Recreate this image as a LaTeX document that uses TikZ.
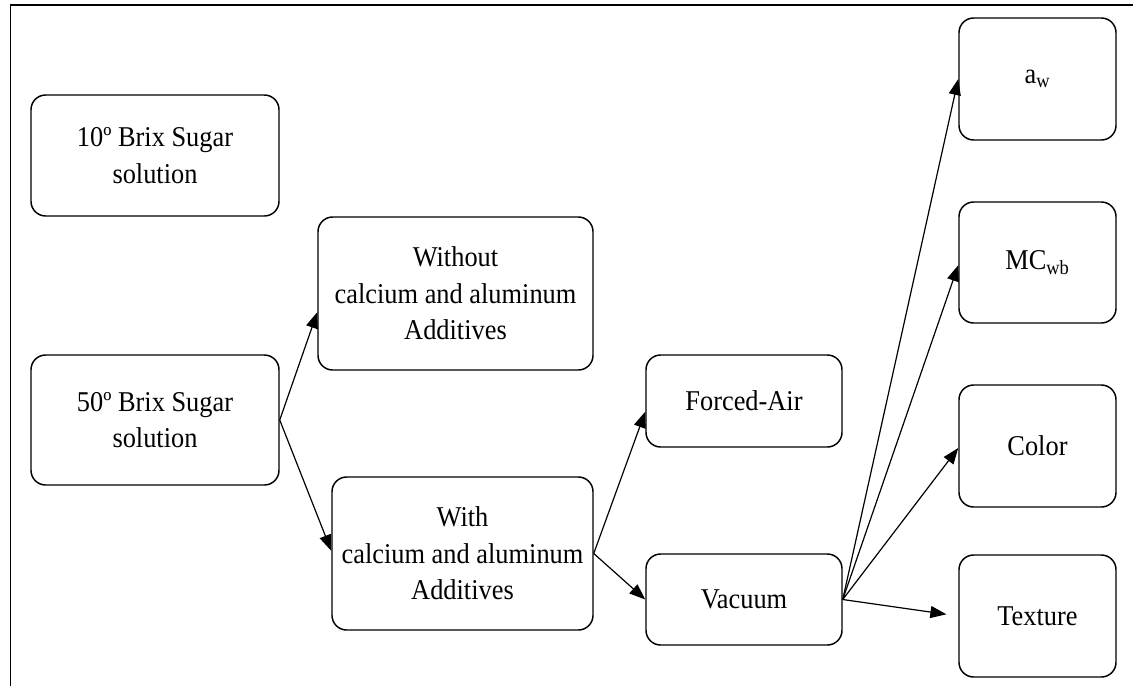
\documentclass[tikz,border=0pt]{standalone}
\usepackage{fontspec}
\setmainfont{Liberation Serif}[FakeStretch=0.92]
\usetikzlibrary{arrows.meta}

\begin{document}
\begin{tikzpicture}[x=0.75pt, y=-0.75pt,
		every node/.style={draw, fill=white, rounded corners=11pt, line width=1.1pt, align=center, inner sep=0pt, font=\fontsize{21.5}{27.5}\selectfont},
		flow/.style={line width=0.9pt, -{Triangle[length=12pt, width=9pt]}}]

				\useasboundingbox (0,0) rectangle (1133,686);
				\draw[line width=1.3pt] (1133,5) -- (10.5,5) -- (10.5,686);

				\node[minimum width=186pt, minimum height=90.75pt] (brixten) at (155,155.5) {10º Brix Sugar\\solution};
				\node[minimum width=186pt, minimum height=97.5pt] (brixfifty) at (155,420) {50º Brix Sugar\\solution};

				\node[minimum width=206.25pt, minimum height=114.75pt] (without) at (455.5,293.5) {Without\\calcium and aluminum\\Additives};
				\node[minimum width=195.75pt, minimum height=114.75pt] (with) at (462.5,553.5) {With\\calcium and aluminum\\Additives};

				\node[minimum width=147pt, minimum height=69pt] (forced) at (744,401) {Forced-Air};
				\node[minimum width=147pt, minimum height=68.25pt] (vacuum) at (744,599.5) {Vacuum};

				\node[minimum width=117.75pt, minimum height=91.5pt] (aw) at (1037.5,79) {a\textsubscript{w}};
				\node[minimum width=117.75pt, minimum height=90.75pt] (moisture) at (1037.5,262.5) {MC\textsubscript{wb}};
				\node[minimum width=117.75pt, minimum height=91.5pt] (color) at (1037.5,446) {Color};
				\node[minimum width=117.75pt, minimum height=91.5pt] (texture) at (1037.5,616) {Texture};

				\draw[flow] (brixfifty.east) -- ([yshift=-14pt]without.west);
				\draw[flow] (brixfifty.east) -- ([yshift=2pt]with.west);
				\draw[flow] (with.east) -- ([yshift=-8pt]forced.west);
				\draw[flow] (with.east) -- (vacuum.west);
				\draw[flow] (vacuum.east) -- (aw.west);
				\draw[flow] (vacuum.east) -- ([yshift=-2pt]moisture.west);
				\draw[flow] (vacuum.east) -- ([yshift=-1.5pt]color.west);
				\draw[flow, shorten >=9pt] (vacuum.east) -- (texture.west);
			\end{tikzpicture}
\end{document}
